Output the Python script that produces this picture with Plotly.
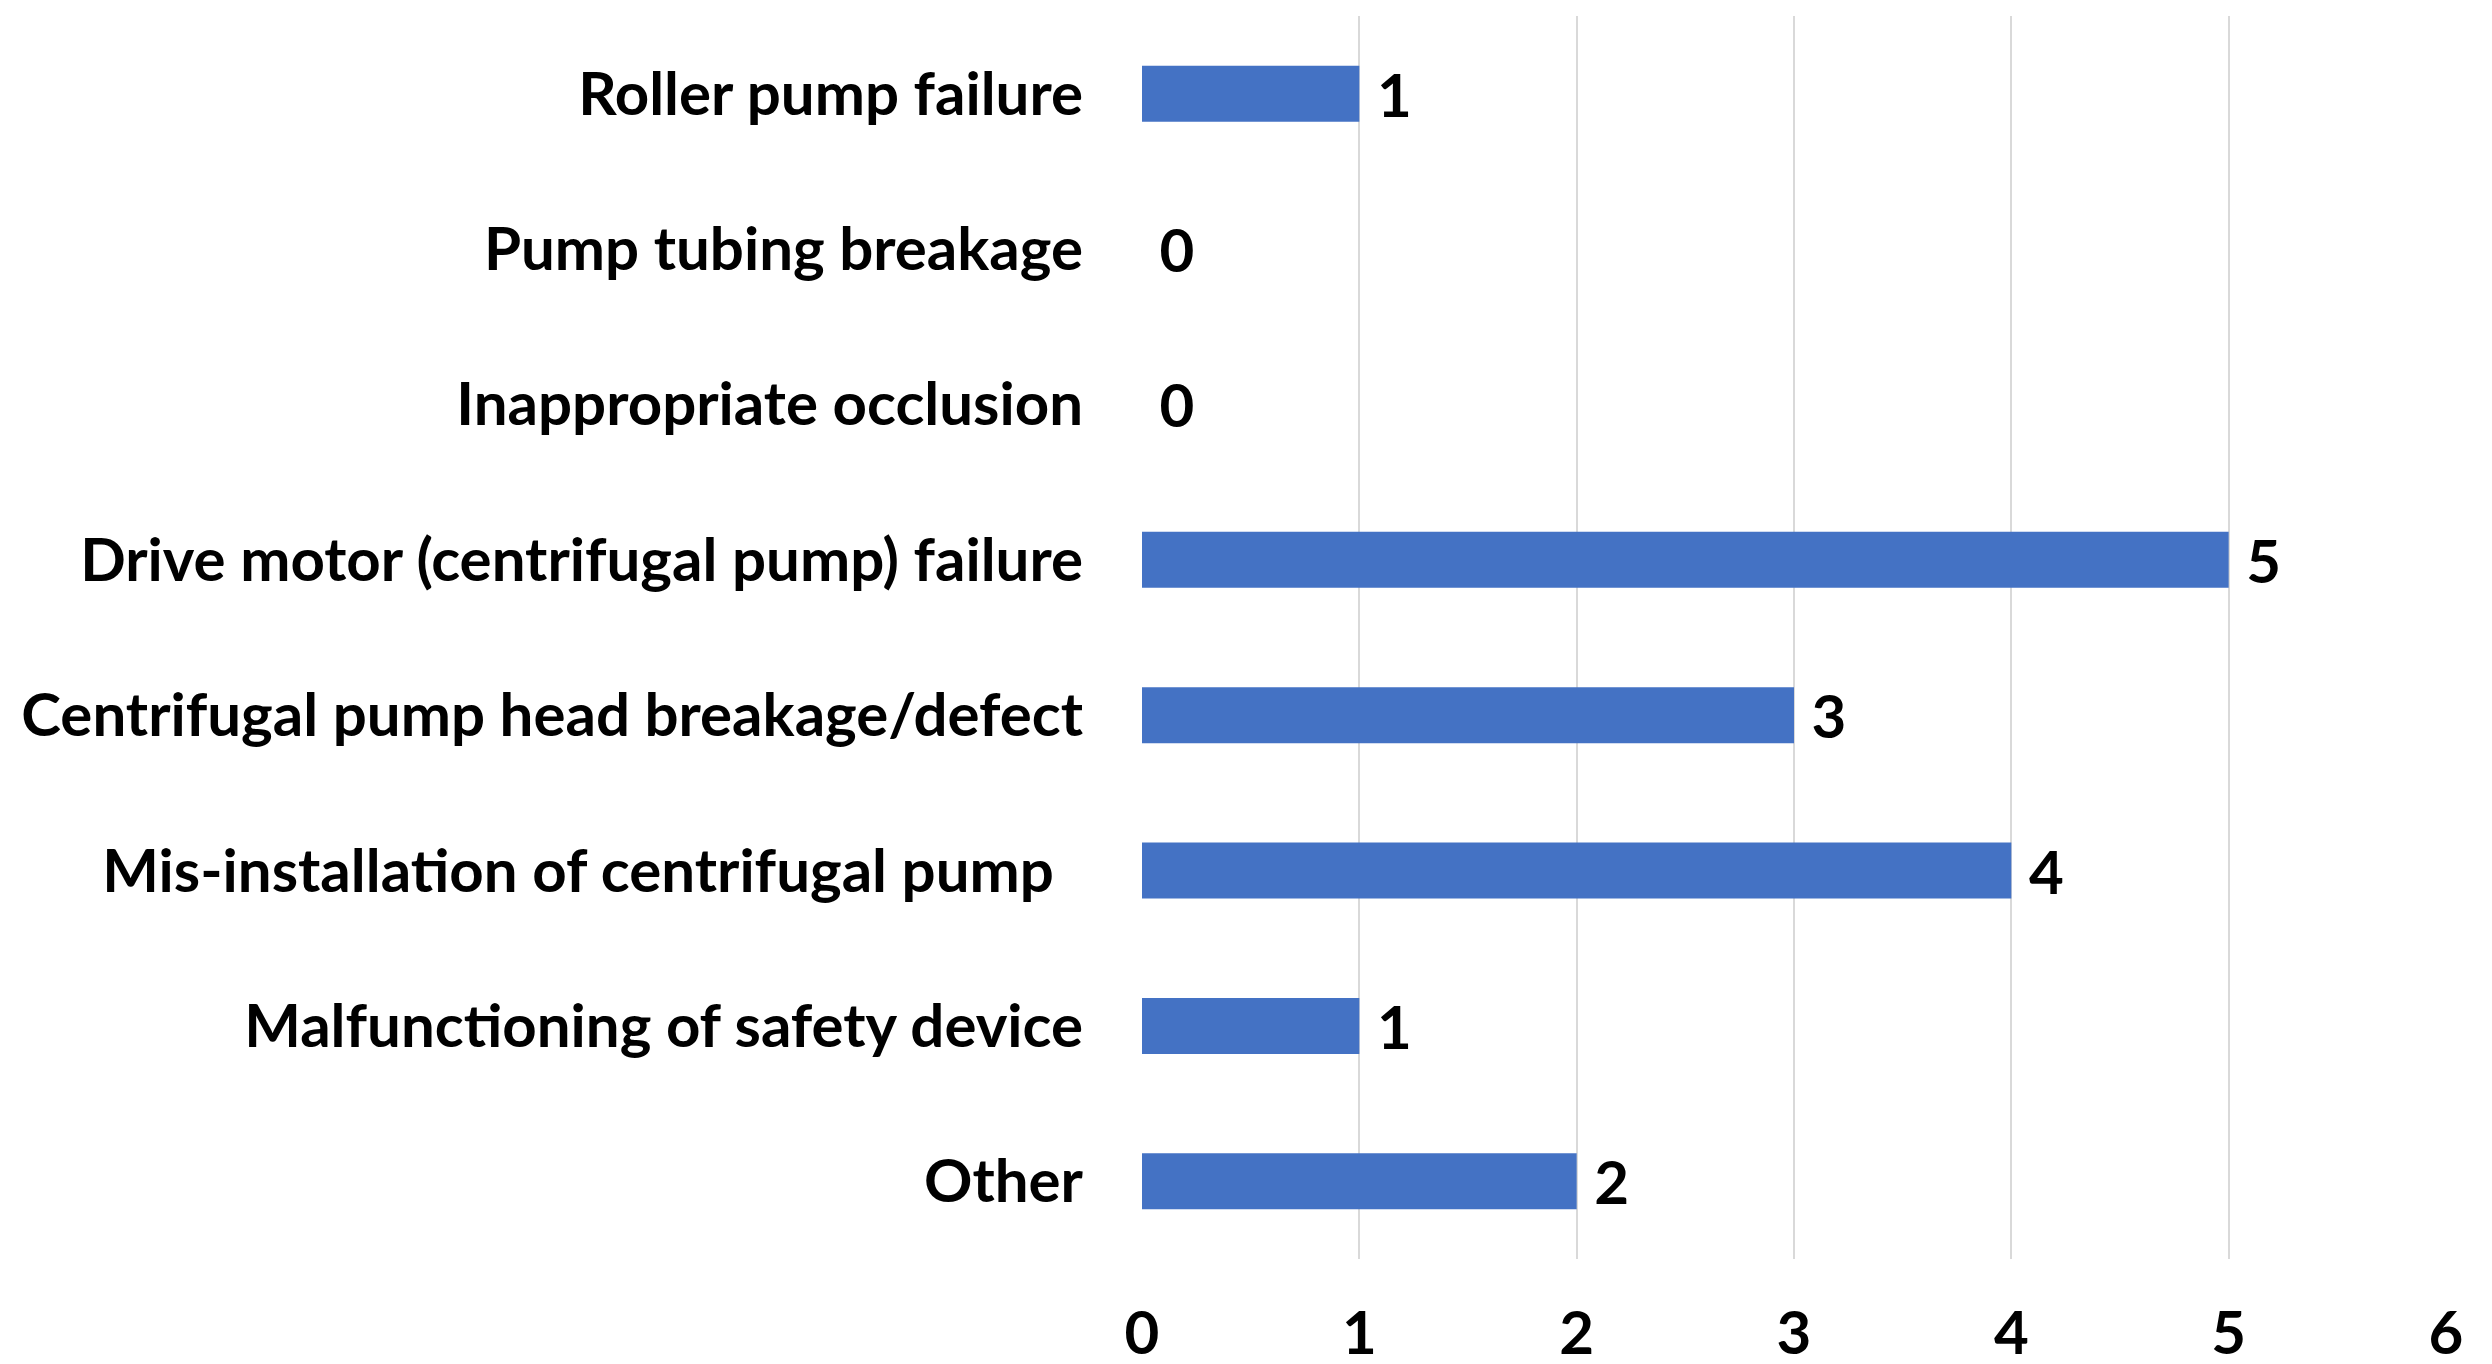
import plotly.graph_objects as go

# categories listed bottom-to-top (plotly draws first category at the bottom)
categories = [
    "Other",
    "Malfunctioning of safety device",
    "Mis-installation of centrifugal pump\u00a0\u00a0",
    "Centrifugal pump head breakage/defect",
    "Drive motor (centrifugal pump) failure",
    "Inappropriate occlusion",
    "Pump tubing breakage",
    "Roller pump failure",
]
counts = [2, 1, 4, 3, 5, 0, 0, 1]
x_ticks = [0, 1, 2, 3, 4, 5, 6]

FONT = "Lato"
BAR_COLOR = "#4472C4"
big_bold = dict(family=FONT, size=60, color="black", weight="bold")

fig = go.Figure(go.Bar(
    x=counts,
    y=categories,
    orientation="h",
    marker_color=BAR_COLOR,
    marker_line_width=0,
    text=counts,
    texttemplate="\u00a0%{x}",
    textposition="outside",
    constraintext="none",
    cliponaxis=False,
    textfont=big_bold,
))

fig.update_layout(
    width=2492,
    height=1364,
    plot_bgcolor="white",
    paper_bgcolor="white",
    bargap=0.64,
    showlegend=False,
    margin=dict(l=1134, r=54, t=8, b=113, autoexpand=False),
    font=dict(family=FONT, color="black"),
)

fig.update_xaxes(
    range=[0, 6],
    tickvals=x_ticks,
    showgrid=True,
    gridcolor="#d9d9d9",
    gridwidth=2,
    zeroline=False,
    showline=False,
    ticks="",
    ticklabelstandoff=34,
    tickfont=big_bold,
)
fig.update_yaxes(
    showgrid=False,
    zeroline=False,
    showline=False,
    ticks="",
    ticklabelstandoff=58,
    tickfont=big_bold,
)

fig.write_html("out.html")
